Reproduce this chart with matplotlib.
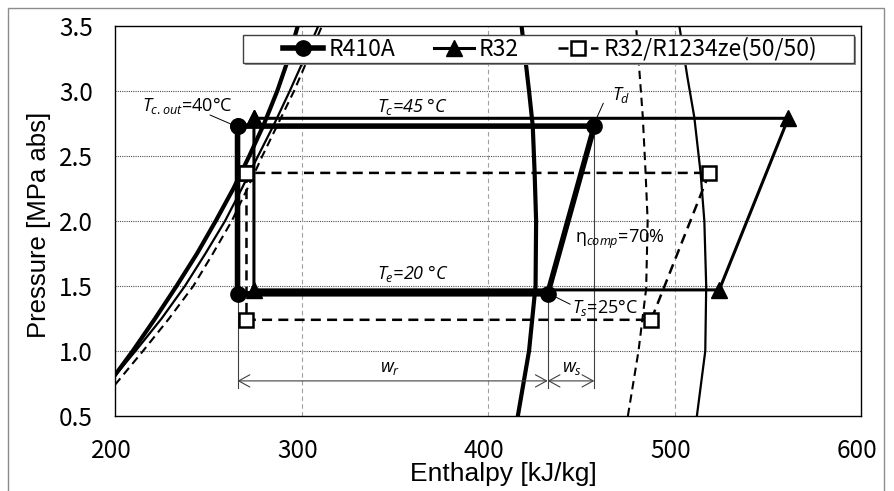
"""
ph_cycles.py

P-h diagram with three refrigeration cycles (R410A, R32, R32/R1234ze)
and their saturation lines, values read off the original chart.
"""

import matplotlib.pyplot as plt
from matplotlib.patches import Rectangle
from matplotlib.transforms import ScaledTranslation


# ============================================================
# DATA (enthalpy kJ/kg, pressure MPa abs)
# ============================================================
# cycle state points: cond. outlet, evap. inlet, suction, discharge, back
r410a_h = [265.7, 265.7, 432.0, 457.0, 265.7]
r410a_p = [2.73, 1.44, 1.44, 2.73, 2.73]

r32_h = [274.5, 274.5, 524.0, 561.0, 274.5]
r32_p = [2.79, 1.47, 1.47, 2.79, 2.79]

mix_h = [270.5, 270.5, 487.5, 518.7, 270.5]
mix_p = [2.37, 1.24, 1.24, 2.37, 2.37]

# saturated liquid lines
liq_p = [1.0, 1.25, 1.5, 1.75, 2.0, 2.25, 2.5, 2.75, 3.0, 3.25, 3.5]
r410a_liq_h = [209.5, 221.5, 233, 244, 254, 263.5, 272, 280, 287, 293, 298]
r32_liq_h = [211, 225, 237.5, 248.5, 259, 268, 276.7, 285.5, 293.7, 301.5, 309]
mix_liq_h = [215, 229, 242, 252.5, 262.6, 271, 279, 287.5, 296, 303.5, 311]
liq_start_p = [0.815, 0.81, 0.74]   # where each line leaves h = 200

# saturated vapour lines
r410a_vap_h = [416, 422, 425.5, 425.8, 425, 424, 422, 418]
r410a_vap_p = [0.5, 1.0, 1.5, 2.0, 2.37, 2.73, 3.0, 3.5]
r32_vap_h = [512, 516.5, 517, 516, 514, 510.6, 507, 502.6]
r32_vap_p = [0.5, 1.0, 1.5, 2.0, 2.37, 2.8, 3.1, 3.5]
mix_vap_h = [475, 480.7, 484.8, 485.6, 484.5, 483, 479.4]
mix_vap_p = [0.5, 1.0, 1.48, 2.0, 2.37, 2.8, 3.5]

labels = ["R410A", "R32", "R32/R1234ze(50/50)"]
x_ticks = [200, 300, 400, 500, 600]
y_ticks = [0.5, 1.0, 1.5, 2.0, 2.5, 3.0, 3.5]
# ============================================================

GOTHIC = ["Noto Sans CJK JP", "DejaVu Sans"]
SANS = ["Liberation Sans", "DejaVu Sans"]
NOTE = ["Open Sans", "DejaVu Sans"]

plt.rcParams["mathtext.fontset"] = "custom"
plt.rcParams["mathtext.rm"] = "Open Sans"
plt.rcParams["mathtext.it"] = "Open Sans:italic"
plt.rcParams["mathtext.bf"] = "Open Sans:bold"


def note(ax, h, p, s, italic=False):
    ax.text(h, p, s, ha="left", va="baseline", fontsize=13, family=NOTE,
            style="italic" if italic else "normal", zorder=6)


def leader(ax, h0, p0, h1, p1):
    ax.plot([h0, h1], [p0, p1], color="black", lw=0.7, zorder=6)


def main():
    fig = plt.figure(figsize=(8.94, 4.91), dpi=100)
    ax = fig.add_axes([115 / 894, 75 / 491, 746 / 894, 390 / 491])

    # outer frame of the chart object
    fig.patches.append(Rectangle((8 / 894, -0.05), 876 / 894, 1.05 - 8 / 491,
                                 transform=fig.transFigure, fill=False,
                                 edgecolor="#8c8c8c", lw=1.0))

    # saturation lines
    ax.plot([200] + r410a_liq_h, [liq_start_p[0]] + liq_p, color="black", lw=3.0, zorder=2)
    ax.plot(r410a_vap_h, r410a_vap_p, color="black", lw=3.0, zorder=2)
    ax.plot([200] + r32_liq_h, [liq_start_p[1]] + liq_p, color="black", lw=1.6, zorder=2)
    ax.plot(r32_vap_h, r32_vap_p, color="black", lw=1.6, zorder=2)
    ax.plot([200] + mix_liq_h, [liq_start_p[2]] + liq_p, color="black", lw=1.5,
            dashes=(4, 2.5), zorder=2)
    ax.plot(mix_vap_h, mix_vap_p, color="black", lw=1.5, dashes=(4, 2.5), zorder=2)

    # cycles
    l32, = ax.plot(r32_h, r32_p, color="black", lw=2.2, marker="^", ms=12,
                   label=labels[1], zorder=3)
    lmix, = ax.plot(mix_h, mix_p, color="black", lw=1.8, dashes=(4, 2.5),
                    marker="s", ms=10, mfc="white", mec="black", mew=1.8,
                    label=labels[2], zorder=4)
    l410, = ax.plot(r410a_h, r410a_p, color="black", lw=4.0, marker="o", ms=11,
                    label=labels[0], zorder=5)

    # dimension lines for w_r and w_s
    p_dim = 0.77
    for h, p in [(r410a_h[0], r410a_p[1]), (r410a_h[2], r410a_p[2]), (r410a_h[3], r410a_p[3])]:
        ax.plot([h, h], [p, 0.715], color="#404040", lw=0.8, zorder=1.5)
    arrow = dict(arrowstyle="<->,head_length=0.4,head_width=0.22", color="#404040",
                 lw=0.8, shrinkA=0, shrinkB=0, mutation_scale=20)
    ax.annotate("", xy=(r410a_h[2], p_dim), xytext=(r410a_h[0], p_dim), arrowprops=arrow)
    ax.annotate("", xy=(r410a_h[3], p_dim), xytext=(r410a_h[2], p_dim), arrowprops=arrow)

    # annotations
    note(ax, 214.5, 2.85, r"$T_{c.out}$=40°C")
    leader(ax, 251, 2.815, 263.4, 2.738)
    note(ax, 340.3, 2.84, r"$T_c$=45 °C", italic=True)
    note(ax, 340.3, 1.551, r"$T_e$=20 °C", italic=True)
    note(ax, 466.3, 2.93, r"$T_d$")
    leader(ax, 461.8, 2.905, 458.2, 2.79)
    note(ax, 446.6, 1.828, r"$\mathrm{\eta}_{comp}$=70%")
    note(ax, 444.9, 1.29, r"$T_s$=25°C")
    leader(ax, 435.9, 1.418, 444.0, 1.36)
    note(ax, 342, 0.84, r"$w_r$")
    note(ax, 439.5, 0.84, r"$w_s$")

    # axes
    ax.set_xlim(200, 600)
    ax.set_ylim(0.5, 3.5)
    ax.set_xticks(x_ticks)
    ax.set_yticks(y_ticks)
    ax.set_yticklabels([f"{v:.1f}" for v in y_ticks])
    ax.tick_params(axis="y", length=0, labelsize=17.5, pad=16)
    ax.tick_params(axis="x", length=0, labelsize=17.5, pad=16)
    for lab in ax.get_xticklabels() + ax.get_yticklabels():
        lab.set_family(GOTHIC)
    shift = ScaledTranslation(-4 / 100, 0, fig.dpi_scale_trans)
    for lab in ax.get_xticklabels():
        lab.set_transform(lab.get_transform() + shift)
    for sp in ax.spines.values():
        sp.set_linewidth(1.0)
        sp.set_color("black")

    for p in y_ticks[1:-1]:
        ax.axhline(p, color="#505050", lw=0.8, ls=(0, (1, 1)), zorder=1)
    for h in x_ticks[1:-1]:
        ax.axvline(h, color="#a0a0a0", lw=0.8, ls=(0, (4, 3)), zorder=1)

    ax.set_xlabel("Enthalpy [kJ/kg]", fontsize=19, family=SANS)
    ax.set_ylabel("Pressure [MPa abs]", fontsize=18.5, family=SANS)
    ax.xaxis.set_label_coords(0.52, -0.118)
    ax.yaxis.set_label_coords(-0.086, 0.49)

    # legend: frame drawn by hand, entries spread over the inner width
    ax.add_patch(Rectangle((0.1716 + 0.003, 0.905 - 0.005), 0.819, 0.072,
                           transform=ax.transAxes, facecolor="#909090",
                           edgecolor="none", zorder=8, clip_on=False))
    ax.add_patch(Rectangle((0.1716, 0.905), 0.819, 0.072, transform=ax.transAxes,
                           facecolor="white", edgecolor="#404040", lw=1.0,
                           zorder=9, clip_on=False))
    leg = ax.legend(handles=[l410, l32, lmix], loc="center left",
                    bbox_to_anchor=(0.2252, 0.905, 0.716, 0.072), mode="expand",
                    ncol=3, prop={"family": GOTHIC, "size": 16.5},
                    handlelength=1.75, handletextpad=0.22, borderpad=0,
                    borderaxespad=0, frameon=False)
    leg.set_zorder(10)

    fig.savefig("out.png", dpi=100)


if __name__ == "__main__":
    main()
